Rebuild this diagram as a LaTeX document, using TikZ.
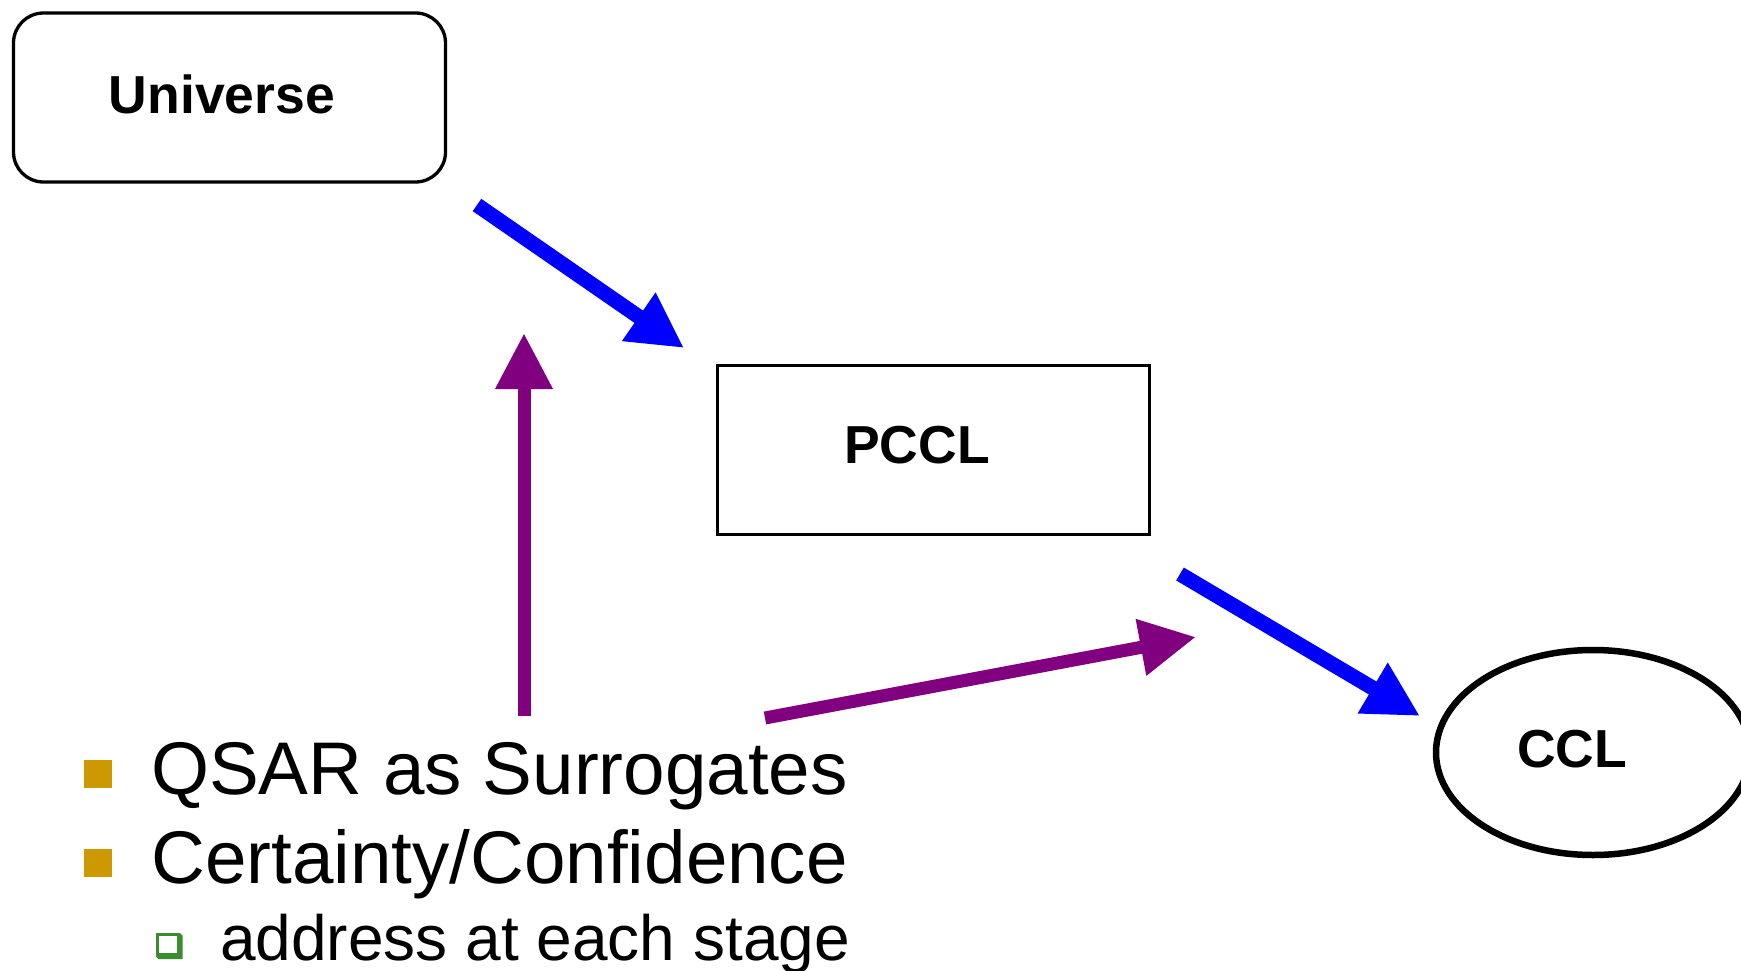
\documentclass[tikz,border=0pt]{standalone}
\usepackage{fontspec}
\setmainfont{Liberation Sans}
\usetikzlibrary{arrows.meta,shapes.geometric}
\definecolor{arrowblue}{RGB}{0,0,255}
\definecolor{arrowpurple}{RGB}{128,0,128}
\definecolor{bulletgold}{RGB}{204,153,0}
\definecolor{bulletgreen}{RGB}{58,140,46}
\begin{document}
\begin{tikzpicture}[x=1pt,y=-1pt,
  box/.style={draw=black, line width=3pt, minimum width=432pt, minimum height=169pt, inner sep=0pt},
  lbl/.style={font=\fontsize{53.5}{60}\selectfont\bfseries, inner sep=0pt},
  bulltext/.style={font=\fontsize{74.6}{85}\selectfont, inner sep=0pt, anchor=base west},
  subtext/.style={font=\fontsize{64}{72}\selectfont, inner sep=0pt, anchor=base west},
  bluearrow/.style={draw=arrowblue, line width=15pt, -{Triangle[length=55pt,width=55pt]}},
  purplearrow/.style={draw=arrowpurple, line width=13pt, -{Triangle[length=56pt,width=54pt]}},
  goldsq/.style={fill=bulletgold, draw=none, minimum width=28pt, minimum height=27.5pt, inner sep=0pt}
]
\useasboundingbox (0,0) rectangle (1741,971);
\fill[white] (0,0) rectangle (1741,971);

% Nodes
\node[box, line width=3.3pt, rounded corners=30pt] (universe) at (229.5,97.5) {};
\node[lbl] (universetext) at (222,94) {Universe};
\node[box] (pccl) at (933.5,450) {};
\node[lbl] (pccltext) at (917,445) {PCCL};
\node[draw=black, line width=6.5pt, ellipse, minimum width=314pt, minimum height=205pt, inner sep=0pt] (ccl) at (1593,752.5) {};
\node[lbl] (ccltext) at (1572,749) {CCL};

% Arrow ends
\coordinate (a1s) at (477,205);
\coordinate (a1e) at (684,348);
\coordinate (a2s) at (1180,574);
\coordinate (a2e) at (1420,716);
\coordinate (p1s) at (524,716);
\coordinate (p1e) at (524,333);
\coordinate (p2s) at (765,718);
\coordinate (p2e) at (1196,637);

\draw[bluearrow] (a1s) -- (a1e);
\draw[bluearrow] (a2s) -- (a2e);
\draw[purplearrow] (p1s) -- (p1e);
\draw[purplearrow] (p2s) -- (p2e);

% Bullets
\node[goldsq] (b1) at (98,774) {};
\node[goldsq] (b2) at (98,863) {};
\node[bulltext] (t1) at (151,794) {QSAR as Surrogates};
\node[bulltext] (t2) at (151,883) {Certainty/Confidence};
\fill[bulletgreen] (156,933) -- (180,933) -- (182.5,935.5) -- (182.5,959) -- (158.5,959) -- (156,956.5) -- cycle;
\fill[white] (158.5,935.5) rectangle (177,953);
\node[subtext] (t3) at (220,960) {address at each stage};
\end{tikzpicture}
\end{document}
